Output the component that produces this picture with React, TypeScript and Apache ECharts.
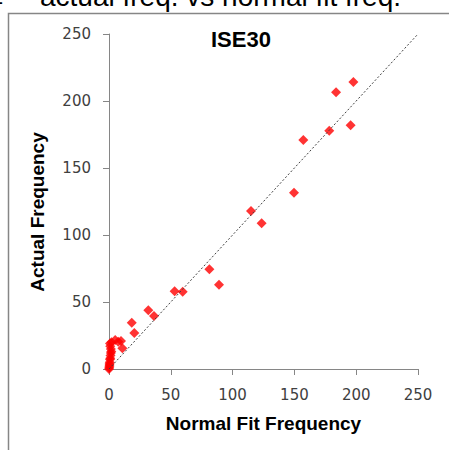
import React, { useEffect, useRef } from "react";
import * as echarts from "echarts";

const chartTitle = "ISE30";
const pageTitle = "actual freq. vs normal fit freq.";
const xName = "Normal Fit Frequency";
const yName = "Actual Frequency";

// Normal fit frequency (x) and actual frequency (y)
const normalFit = [
  0, 0.2, 0.3, 0.4, 0.5, 0.6, 0.8, 1, 1.2, 1.5, 1.8, 1.5, 1, 0.8, 2, 5, 7.5, 9.7, 10.8,
  18.4, 20.5, 31.8, 36.4, 53.1, 59.6, 81.2, 89, 114.9, 123.5, 149.7, 157.2, 178.2,
  195.5, 183.7, 197.7,
];
const actual = [
  0, 1, 2, 3, 4, 5, 7, 8, 10, 12, 13, 15, 17, 19, 20, 21.6, 20.4, 20.9, 15.4,
  34.6, 26.9, 43.8, 39.6, 58, 57.7, 74.4, 62.9, 117.9, 108.7, 131.6, 170.9, 177.8,
  181.9, 206.5, 214.2,
];
const refLine = [0, 250];

export default function App() {
  const ref = useRef<HTMLDivElement>(null);
  useEffect(() => {
    document.body.style.margin = "0";
    const chart = echarts.init(ref.current!, undefined, { renderer: "svg" });
    const labelStyle = {
      color: "#404040",
      fontSize: 15,
      fontFamily: "DejaVu Sans",
    };
    const nameStyle = {
      fontFamily: "Liberation Sans, Arial",
      fontWeight: "bold",
      fontSize: 19,
      color: "#000000",
    };
    chart.setOption({
      animation: false,
      backgroundColor: "#ffffff",
      title: {
        text: chartTitle,
        left: 211,
        top: 28,
        padding: 0,
        textStyle: {
          fontFamily: "Liberation Sans, Arial",
          fontWeight: "bold",
          fontSize: 22,
          color: "#000000",
        },
      },
      graphic: [
        {
          type: "rect",
          shape: { x: 8.5, y: 13.5, width: 500, height: 500 },
          style: { fill: "none", stroke: "#868686", lineWidth: 1.5 },
          silent: true,
        },
        {
          type: "text",
          x: 40,
          y: 10,
          style: {
            text: pageTitle,
            fontFamily: "Liberation Sans, Arial",
            fontSize: 28,
            fill: "#000000",
            verticalAlign: "bottom",
          },
        },
        {
          type: "text",
          x: 2,
          y: 14,
          style: {
            text: "–",
            fontFamily: "Liberation Sans, Arial",
            fontSize: 28,
            fill: "#000000",
            align: "right",
            verticalAlign: "bottom",
          },
        },
      ],
      grid: { left: 109, right: 31, top: 34, bottom: 81 },
      xAxis: {
        type: "value",
        min: 0,
        max: 250,
        interval: 50,
        name: xName,
        nameLocation: "middle",
        nameGap: 45,
        nameTextStyle: nameStyle,
        axisLine: { show: true, lineStyle: { color: "#868686", width: 1 } },
        axisTick: { show: true, length: 6, lineStyle: { color: "#868686" } },
        splitLine: { show: false },
        axisLabel: { ...labelStyle, margin: 18 },
      },
      yAxis: {
        type: "value",
        min: 0,
        max: 250,
        interval: 50,
        name: yName,
        nameLocation: "middle",
        nameGap: 62,
        nameTextStyle: { ...nameStyle, padding: [0, 21, 0, 0] },
        axisLine: { show: true, lineStyle: { color: "#868686", width: 1 } },
        axisTick: { show: true, length: 6, lineStyle: { color: "#868686" } },
        splitLine: { show: false },
        axisLabel: { ...labelStyle, margin: 18 },
      },
      series: [
        {
          type: "line",
          data: refLine.map((v) => [v, v]),
          symbol: "none",
          lineStyle: { color: "#404040", width: 1, type: [2, 2] },
          silent: true,
          z: 3,
        },
        {
          type: "scatter",
          data: normalFit.map((x, i) => [x, actual[i]]),
          symbol: "diamond",
          symbolSize: 10,
          itemStyle: { color: "#ff0000" },
          z: 2,
        },
      ],
    });
    return () => chart.dispose();
  }, []);
  return <div ref={ref} style={{ width: 449, height: 450 }} />;
}
